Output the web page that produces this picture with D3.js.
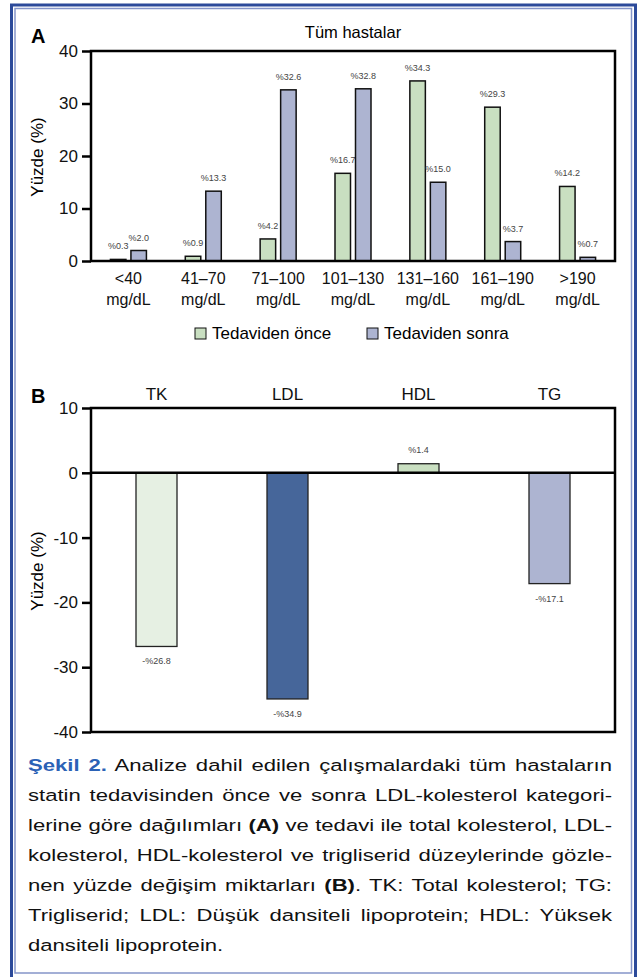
<!DOCTYPE html>
<html>
<head>
<meta charset="utf-8">
<script src="https://cdn.jsdelivr.net/npm/d3@7"></script>
<style>
  body { margin: 0; background: #fff; }
  svg text { font-family: "Liberation Sans", Arial, Helvetica, sans-serif; }
</style>
</head>
<body>
<div id="main"></div>
<script>
// panel A: LDL categories, before / after treatment (%)
const catsA = ["<40", "41–70", "71–100", "101–130", "131–160", "161–190", ">190"];
const beforeVals = [0.3, 0.9, 4.2, 16.7, 34.3, 29.3, 14.2];
const afterVals = [2.0, 13.3, 32.6, 32.8, 15.0, 3.7, 0.7];
const seriesNames = ["Tedaviden önce", "Tedaviden sonra"];
const ticksA = [0, 10, 20, 30, 40];

// panel B: percent change by lipid
const catsB = ["TK", "LDL", "HDL", "TG"];
const changeVals = [-26.8, -34.9, 1.4, -17.1];
const ticksB = [10, 0, -10, -20, -30, -40];

const captionLines = [
  [["Şekil 2.", "head"], [" Analize dahil edilen çalışmalardaki tüm hastaların", ""]],
  [["statin tedavisinden önce ve sonra LDL-kolesterol kategori-", ""]],
  [["lerine göre dağılımları ", ""], ["(A)", "bold"], [" ve tedavi ile total kolesterol, LDL-", ""]],
  [["kolesterol, HDL-kolesterol ve trigliserid düzeylerinde gözle-", ""]],
  [["nen yüzde değişim miktarları ", ""], ["(B)", "bold"], [". TK: Total kolesterol; TG:", ""]],
  [["Trigliserid; LDL: Düşük dansiteli lipoprotein; HDL: Yüksek", ""]],
  [["dansiteli lipoprotein.", ""]]
];

var FIG = {
  w: 641,
  h: 977,
  svg: null,
  green: "#c9dfc1",
  lilac: "#adb4d1",
  init: function() {
    this.svg = d3.select("#main").append("svg")
      .attr("width", FIG.w).attr("height", FIG.h);
    this.drawFrame();
    this.drawPanelA();
    this.drawPanelB();
    this.drawCaption();
  },
  drawFrame: function() {
    this.svg.append("rect").attr("x", 11.5).attr("y", 5).attr("width", 624).attr("height", 990)
      .attr("fill", "none").attr("stroke", "#2c4a9a").attr("stroke-width", 3);
    this.svg.append("rect").attr("x", 15).attr("y", 8.5).attr("width", 616.5).attr("height", 964.5)
      .attr("fill", "none").attr("stroke", "#8595c9").attr("stroke-width", 1.5);
  },
  styleAxis: function(g) {
    g.select(".domain").remove();
    g.selectAll(".tick line").attr("stroke", "#000").attr("stroke-width", 2.5);
    g.selectAll(".tick text").attr("font-size", 17).attr("fill", "#111");
  },
  drawPanelA: function() {
    var svg = this.svg;
    var x = d3.scaleBand().domain(catsA).range([91, 615]);
    var y = d3.scaleLinear().domain([0, 40]).range([261, 51]);
    var sub = d3.scaleBand().domain([0, 1]).range([-18, 18]).paddingInner(0.244);

    svg.append("text").attr("x", 31).attr("y", 43).attr("font-size", 20)
      .attr("font-weight", "bold").text("A");
    svg.append("text").attr("x", 353).attr("y", 38).attr("font-size", 16.5)
      .attr("text-anchor", "middle").text("Tüm hastalar");
    svg.append("text").attr("transform", "translate(43,157) rotate(-90)")
      .attr("font-size", 17).attr("text-anchor", "middle").text("Yüzde (%)");

    var gy = svg.append("g").attr("transform", "translate(91,0)")
      .call(d3.axisLeft(y).tickValues(ticksA).tickSize(9).tickPadding(4));
    FIG.styleAxis(gy);

    var rows = catsA.map(function(c, i) { return {cat: c, vals: [beforeVals[i], afterVals[i]]}; });
    var grp = svg.selectAll(".grpA").data(rows).enter().append("g")
      .attr("transform", function(d) { return "translate(" + (x(d.cat) + x.bandwidth() / 2) + ",0)"; });
    var bar = grp.selectAll("g").data(function(d) { return d.vals; }).enter().append("g");
    bar.append("rect")
      .attr("x", function(d, i) { return sub(i); })
      .attr("y", function(d) { return y(d); })
      .attr("width", sub.bandwidth())
      .attr("height", function(d) { return y(0) - y(d); })
      .attr("fill", function(d, i) { return i ? FIG.lilac : FIG.green; })
      .attr("stroke", "#111").attr("stroke-width", 1.5);
    bar.append("text")
      .attr("x", function(d, i) { return sub(i) + sub.bandwidth() / 2; })
      .attr("y", function(d) { return y(d) - 10; })
      .attr("text-anchor", "middle").attr("font-size", 9).attr("fill", "#444")
      .text(function(d) { return "%" + d.toFixed(1); });

    // box + thick zero line
    svg.append("rect").attr("x", 91).attr("y", 51).attr("width", 524).attr("height", 210)
      .attr("fill", "none").attr("stroke", "#000").attr("stroke-width", 2.5);

    var gx = svg.append("g").attr("transform", "translate(0,261)")
      .call(d3.axisBottom(x).tickSize(0).tickPadding(0));
    gx.select(".domain").remove();
    gx.selectAll(".tick text").each(function(d) {
      var t = d3.select(this).text("").attr("y", 0).attr("dy", null)
        .attr("font-size", 16).attr("fill", "#111");
      t.append("tspan").attr("x", 0).attr("y", 23).text(d);
      t.append("tspan").attr("x", 0).attr("y", 44).text("mg/dL");
    });

    var leg = svg.selectAll(".legA").data(seriesNames).enter().append("g")
      .attr("transform", function(d, i) { return "translate(" + [195, 367][i] + ",328)"; });
    leg.append("rect").attr("width", 11).attr("height", 11)
      .attr("fill", function(d, i) { return i ? FIG.lilac : FIG.green; })
      .attr("stroke", "#111").attr("stroke-width", 1);
    leg.append("text").attr("x", 17).attr("y", 11).attr("font-size", 17).text(function(d) { return d; });
  },
  drawPanelB: function() {
    var svg = this.svg;
    var x = d3.scaleBand().domain(catsB).range([91, 615]);
    var y = d3.scaleLinear().domain([-40, 10]).range([732, 408]);
    var bw = 41;
    var fills = ["#e6f0e3", "#46669a", FIG.green, FIG.lilac];

    svg.append("text").attr("x", 31).attr("y", 403).attr("font-size", 20)
      .attr("font-weight", "bold").text("B");
    svg.append("text").attr("transform", "translate(43,571) rotate(-90)")
      .attr("font-size", 17).attr("text-anchor", "middle").text("Yüzde (%)");

    var gy = svg.append("g").attr("transform", "translate(91,0)")
      .call(d3.axisLeft(y).tickValues(ticksB).tickSize(9).tickPadding(4)
        .tickFormat(function(d) { return String(d); }));
    FIG.styleAxis(gy);

    var gt = svg.append("g").attr("transform", "translate(0,408)")
      .call(d3.axisTop(x).tickSize(0).tickPadding(8));
    gt.select(".domain").remove();
    gt.selectAll(".tick text").attr("font-size", 17).attr("fill", "#111");

    var rows = catsB.map(function(c, i) { return {cat: c, v: changeVals[i], fill: fills[i]}; });
    var bar = svg.selectAll(".barB").data(rows).enter().append("g");
    bar.append("rect")
      .attr("x", function(d) { return x(d.cat) + (x.bandwidth() - bw) / 2; })
      .attr("y", function(d) { return y(Math.max(0, d.v)); })
      .attr("width", bw)
      .attr("height", function(d) { return Math.abs(y(d.v) - y(0)); })
      .attr("fill", function(d) { return d.fill; })
      .attr("stroke", "#222").attr("stroke-width", 1.3);
    bar.append("text")
      .attr("x", function(d) { return x(d.cat) + x.bandwidth() / 2; })
      .attr("y", function(d) { return d.v < 0 ? y(d.v) + 18 : y(d.v) - 11; })
      .attr("text-anchor", "middle").attr("font-size", 9).attr("fill", "#444")
      .text(function(d) { return (d.v < 0 ? "-%" : "%") + Math.abs(d.v).toFixed(1); });

    svg.append("rect").attr("x", 91).attr("y", 408).attr("width", 524).attr("height", 324)
      .attr("fill", "none").attr("stroke", "#000").attr("stroke-width", 2.5);
    svg.append("line").attr("x1", 91).attr("x2", 615).attr("y1", y(0)).attr("y2", y(0))
      .attr("stroke", "#000").attr("stroke-width", 2.5);
  },
  drawCaption: function() {
    // the caption type is set wide: draw at 17px and stretch horizontally
    var left = 28, right = 612, top = 771, lh = 30, sx = 1.3;
    captionLines.forEach(function(parts, i) {
      var t = FIG.svg.append("text")
        .attr("transform", "translate(" + left + "," + (top + i * lh) + ") scale(" + sx + ",1)")
        .attr("font-size", 17).attr("fill", "#111");
      parts.forEach(function(p) {
        var s = t.append("tspan").text(p[0]);
        if (p[1] === "head") s.attr("font-weight", "bold").attr("fill", "#2b62b6");
        if (p[1] === "bold") s.attr("font-weight", "bold");
      });
      // justify all but the last line
      if (i < captionLines.length - 1) {
        var full = parts.map(function(p) { return p[0]; }).join("");
        var gaps = full.split(" ").length - 1;
        var extra = (right - left) / sx - t.node().getComputedTextLength();
        t.attr("word-spacing", extra / gaps);
      }
    });
  }
};

FIG.init();
</script>
</body>
</html>
